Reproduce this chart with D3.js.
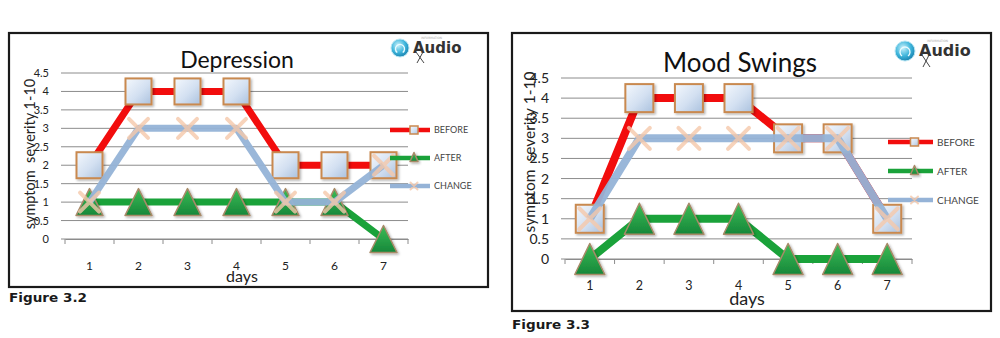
<!DOCTYPE html>
<html>
<head>
<meta charset="utf-8">
<script src="https://cdn.jsdelivr.net/npm/d3@7/dist/d3.min.js"></script>
<style>
  html, body { margin: 0; padding: 0; background: #fff; }
  svg { display: block; }
</style>
</head>
<body>
<svg id="chart" width="1000" height="338"></svg>
<script>
// Shared axis data
const days = ["1", "2", "3", "4", "5", "6", "7"];
const yTicks = [0, 0.5, 1, 1.5, 2, 2.5, 3, 3.5, 4, 4.5];
const seriesNames = ["BEFORE", "AFTER", "CHANGE"];

// Depression (Figure 3.2)
const depressionBefore = [2, 4, 4, 4, 2, 2, 2];
const depressionAfter  = [1, 1, 1, 1, 1, 1, 0];
const depressionChange = [1, 3, 3, 3, 1, 1, 2];

// Mood Swings (Figure 3.3)
const moodBefore = [1, 4, 4, 4, 3, 3, 1];
const moodAfter  = [0, 1, 1, 1, 0, 0, 0];
const moodChange = [1, 3, 3, 3, 3, 3, 1];

const FONT = "Lato, 'Open Sans', sans-serif";
const svg = d3.select("#chart");
const defs = svg.append("defs");

// square marker fill
const sq = defs.append("linearGradient").attr("id", "sqFill")
  .attr("x1", 0).attr("y1", 0).attr("x2", 1).attr("y2", 1);
sq.append("stop").attr("offset", "0%").attr("stop-color", "#f4f8fd");
sq.append("stop").attr("offset", "55%").attr("stop-color", "#d3e0f1");
sq.append("stop").attr("offset", "100%").attr("stop-color", "#aac1de");

// triangle marker fill
const tr = defs.append("linearGradient").attr("id", "trFill")
  .attr("x1", 0).attr("y1", 0).attr("x2", 0).attr("y2", 1);
tr.append("stop").attr("offset", "0%").attr("stop-color", "#3cbc55");
tr.append("stop").attr("offset", "100%").attr("stop-color", "#16873a");

// logo disc
const lg = defs.append("radialGradient").attr("id", "logoFill")
  .attr("cx", "40%").attr("cy", "35%").attr("r", "65%");
lg.append("stop").attr("offset", "0%").attr("stop-color", "#c9f1fb");
lg.append("stop").attr("offset", "60%").attr("stop-color", "#3fb6dc");
lg.append("stop").attr("offset", "100%").attr("stop-color", "#1b86b3");

// soft shadow under markers
const sh = defs.append("filter").attr("id", "shadow")
  .attr("x", "-40%").attr("y", "-40%").attr("width", "180%").attr("height", "180%");
sh.append("feDropShadow").attr("dx", 1.5).attr("dy", 1.5)
  .attr("stdDeviation", 1.2).attr("flood-color", "#000").attr("flood-opacity", 0.3);

const COLORS = { BEFORE: "#f20d0d", AFTER: "#1aa23a", CHANGE: "#95b3d7" };

function drawSquare(g, x, y, s) {
  g.append("rect")
    .attr("x", x - s / 2).attr("y", y - s / 2)
    .attr("width", s).attr("height", s)
    .attr("fill", "url(#sqFill)")
    .attr("stroke", "#c9894f").attr("stroke-width", 2)
    .attr("filter", "url(#shadow)");
}
function drawTriangle(g, x, y, w, h) {
  g.append("path")
    .attr("d", `M${x},${y - h / 2}L${x + w / 2},${y + h / 2}L${x - w / 2},${y + h / 2}Z`)
    .attr("fill", "url(#trFill)")
    .attr("stroke", "#a88a68").attr("stroke-width", 1.5)
    .attr("stroke-linejoin", "round")
    .attr("filter", "url(#shadow)");
}
function drawCross(g, x, y, s, sw) {
  g.append("path")
    .attr("d", `M${x - s / 2},${y - s / 2}L${x + s / 2},${y + s / 2}M${x - s / 2},${y + s / 2}L${x + s / 2},${y - s / 2}`)
    .attr("stroke", "#f5c8aa").attr("stroke-width", sw)
    .attr("stroke-opacity", 0.8).attr("stroke-linecap", "round");
}

function drawPanel(cfg) {
  const g = svg.append("g");

  // frame
  g.append("rect")
    .attr("x", cfg.frame[0]).attr("y", cfg.frame[1])
    .attr("width", cfg.frame[2]).attr("height", cfg.frame[3])
    .attr("fill", "#fff").attr("stroke", "#1a1a1a").attr("stroke-width", 2.2);

  const x = d3.scaleBand().domain(days).range([cfg.x0, cfg.x1]);
  const y = d3.scaleLinear().domain([0, 4.5]).range([cfg.yBottom, cfg.yTop]);
  const cx = d => x(d) + x.bandwidth() / 2;

  // horizontal gridlines
  g.append("g").selectAll("line").data(yTicks).join("line")
    .attr("x1", cfg.x0 - 4).attr("x2", cfg.x1)
    .attr("y1", d => y(d)).attr("y2", d => y(d))
    .attr("stroke", "#8c8c8c").attr("stroke-width", 1);

  // category axis with outward tick marks
  const xAxis = g.append("g").attr("transform", `translate(0,${cfg.yBottom})`)
    .call(d3.axisBottom(x).tickSize(0).tickPadding(cfg.catPad));
  xAxis.select(".domain").attr("stroke", "#8c8c8c");
  xAxis.selectAll("text").attr("font-family", FONT).attr("font-size", cfg.catSize).attr("fill", "#222");
  g.append("g").selectAll("line").data(days.concat(["end"])).join("line")
    .attr("x1", (d, i) => cfg.x0 + i * x.bandwidth())
    .attr("x2", (d, i) => cfg.x0 + i * x.bandwidth())
    .attr("y1", cfg.yBottom).attr("y2", cfg.yBottom + 5)
    .attr("stroke", "#8c8c8c");

  // value axis labels
  const yAxis = g.append("g").attr("transform", `translate(${cfg.x0},0)`)
    .call(d3.axisLeft(y).tickValues(yTicks).tickSize(0).tickPadding(cfg.yPad)
      .tickFormat(d3.format("~g")));
  yAxis.select(".domain").remove();
  yAxis.selectAll("text").attr("font-family", FONT).attr("font-size", cfg.yTickSize).attr("fill", "#222");

  // titles
  g.append("text").attr("x", cfg.titleX).attr("y", cfg.titleY)
    .attr("text-anchor", "middle").attr("font-family", FONT)
    .attr("font-size", cfg.titleSize).attr("fill", "#111").text(cfg.title);
  g.append("text").attr("x", cfg.daysX).attr("y", cfg.daysY)
    .attr("text-anchor", "middle").attr("font-family", FONT)
    .attr("font-size", cfg.daysSize).attr("fill", "#222").text("days");
  g.append("text")
    .attr("transform", `translate(${cfg.yTitleX},${cfg.yTitleY}) rotate(-90)`)
    .attr("text-anchor", "middle").attr("font-family", FONT)
    .attr("font-size", cfg.yTitleSize).attr("fill", "#222")
    .attr("xml:space", "preserve")
    .text("symptom  severity 1-10");

  // series: line, then markers, in order
  const line = d3.line().x((d, i) => cx(days[i])).y(d => y(d));
  const data = { BEFORE: cfg.before, AFTER: cfg.after, CHANGE: cfg.change };
  seriesNames.forEach(name => {
    const vals = data[name];
    const sg = g.append("g");
    sg.append("path").datum(vals).attr("d", line)
      .attr("fill", "none").attr("stroke", COLORS[name])
      .attr("stroke-width", cfg.lineW).attr("stroke-linejoin", "round")
      .attr("stroke-opacity", name === "CHANGE" ? 0.95 : 1);
    vals.forEach((v, i) => {
      const px = cx(days[i]), py = y(v);
      if (name === "BEFORE") drawSquare(sg, px, py, cfg.sqSize);
      else if (name === "AFTER") drawTriangle(sg, px, py, cfg.triW, cfg.triH);
      else drawCross(sg, px, py, cfg.xSize, 4);
    });
  });

  // legend
  seriesNames.forEach((name, i) => {
    const ly = cfg.legY[i];
    const lgG = g.append("g");
    lgG.append("line").attr("x1", cfg.legX0).attr("x2", cfg.legX1)
      .attr("y1", ly).attr("y2", ly)
      .attr("stroke", COLORS[name]).attr("stroke-width", 4.5);
    const mx = (cfg.legX0 + cfg.legX1) / 2 + 4;
    if (name === "BEFORE") {
      lgG.append("rect").attr("x", mx - 4).attr("y", ly - 4).attr("width", 8).attr("height", 8)
        .attr("fill", "url(#sqFill)").attr("stroke", "#c9894f").attr("stroke-width", 1.5);
    } else if (name === "AFTER") {
      drawTriangle(lgG, mx, ly - 1, 8, 9);
    } else {
      drawCross(lgG, mx, ly, 7, 2);
    }
    lgG.append("text").attr("x", cfg.legX1 + 4).attr("y", ly)
      .attr("dy", "0.35em").attr("font-family", FONT)
      .attr("font-size", cfg.legSize).attr("fill", "#444").text(name);
  });

  // publisher badge
  const r = cfg.logoR;
  const b = g.append("g").attr("transform", `translate(${cfg.logo[0]},${cfg.logo[1]})`);
  b.append("circle").attr("r", r).attr("fill", "url(#logoFill)")
    .attr("stroke", "#b9e6f3").attr("stroke-width", 1);
  b.append("path")
    .attr("d", `M${-r * 0.3},${r * 0.5}a${r * 0.5},${r * 0.5} 0 1,1 ${r * 0.6},0`)
    .attr("fill", "none").attr("stroke", "#eafbff").attr("stroke-width", 1.4);
  b.append("text").attr("x", r + 4).attr("y", 5)
    .attr("font-family", "'DejaVu Sans', sans-serif").attr("font-weight", "bold")
    .attr("font-size", cfg.logoSize).attr("fill", "#333").text("Audio");
  b.append("path")
    .attr("d", `M${r + 7},4L${r + 15},${r + 6}M${r + 14},4L${r + 8},${r + 6}`)
    .attr("stroke", "#444").attr("stroke-width", 1).attr("fill", "none");
  b.append("text").attr("x", r + 12).attr("y", -9)
    .attr("font-family", "'DejaVu Sans', sans-serif")
    .attr("font-size", 3).attr("fill", "#aaa").text("INFORMATION");

  // caption under the frame
  svg.append("text").attr("x", cfg.capX).attr("y", cfg.capY)
    .attr("font-family", "'DejaVu Sans', Verdana, sans-serif").attr("font-weight", "bold")
    .attr("font-size", 12.5).attr("fill", "#1a1a1a")
    .attr("textLength", 78).attr("lengthAdjust", "spacingAndGlyphs")
    .text(cfg.caption);
}

drawPanel({
  title: "Depression", caption: "Figure 3.2",
  before: depressionBefore, after: depressionAfter, change: depressionChange,
  frame: [9, 33, 479, 254],
  x0: 65, x1: 408, yBottom: 239, yTop: 73,
  catPad: 22, catSize: 12, yPad: 16, yTickSize: 11,
  titleX: 237, titleY: 68, titleSize: 23,
  daysX: 242, daysY: 282, daysSize: 16,
  yTitleX: 35, yTitleY: 154, yTitleSize: 14.5,
  lineW: 7, sqSize: 26, triW: 27, triH: 27, xSize: 19,
  legX0: 390, legX1: 430, legY: [130, 158, 186], legSize: 9,
  logo: [400, 48], logoR: 9, logoSize: 15,
  capX: 9, capY: 302
});

drawPanel({
  title: "Mood Swings", caption: "Figure 3.3",
  before: moodBefore, after: moodAfter, change: moodChange,
  frame: [512, 33, 479, 278],
  x0: 565, x1: 912, yBottom: 259, yTop: 78,
  catPad: 22, catSize: 12.5, yPad: 16, yTickSize: 14,
  titleX: 740, titleY: 72, titleSize: 26,
  daysX: 747, daysY: 305, daysSize: 18,
  yTitleX: 535, yTitleY: 152, yTitleSize: 15.5,
  lineW: 8, sqSize: 28, triW: 30, triH: 31, xSize: 21,
  legX0: 888, legX1: 933, legY: [142, 171, 200], legSize: 10,
  logo: [905, 51], logoR: 10, logoSize: 16,
  capX: 512, capY: 329
});
</script>
</body>
</html>
